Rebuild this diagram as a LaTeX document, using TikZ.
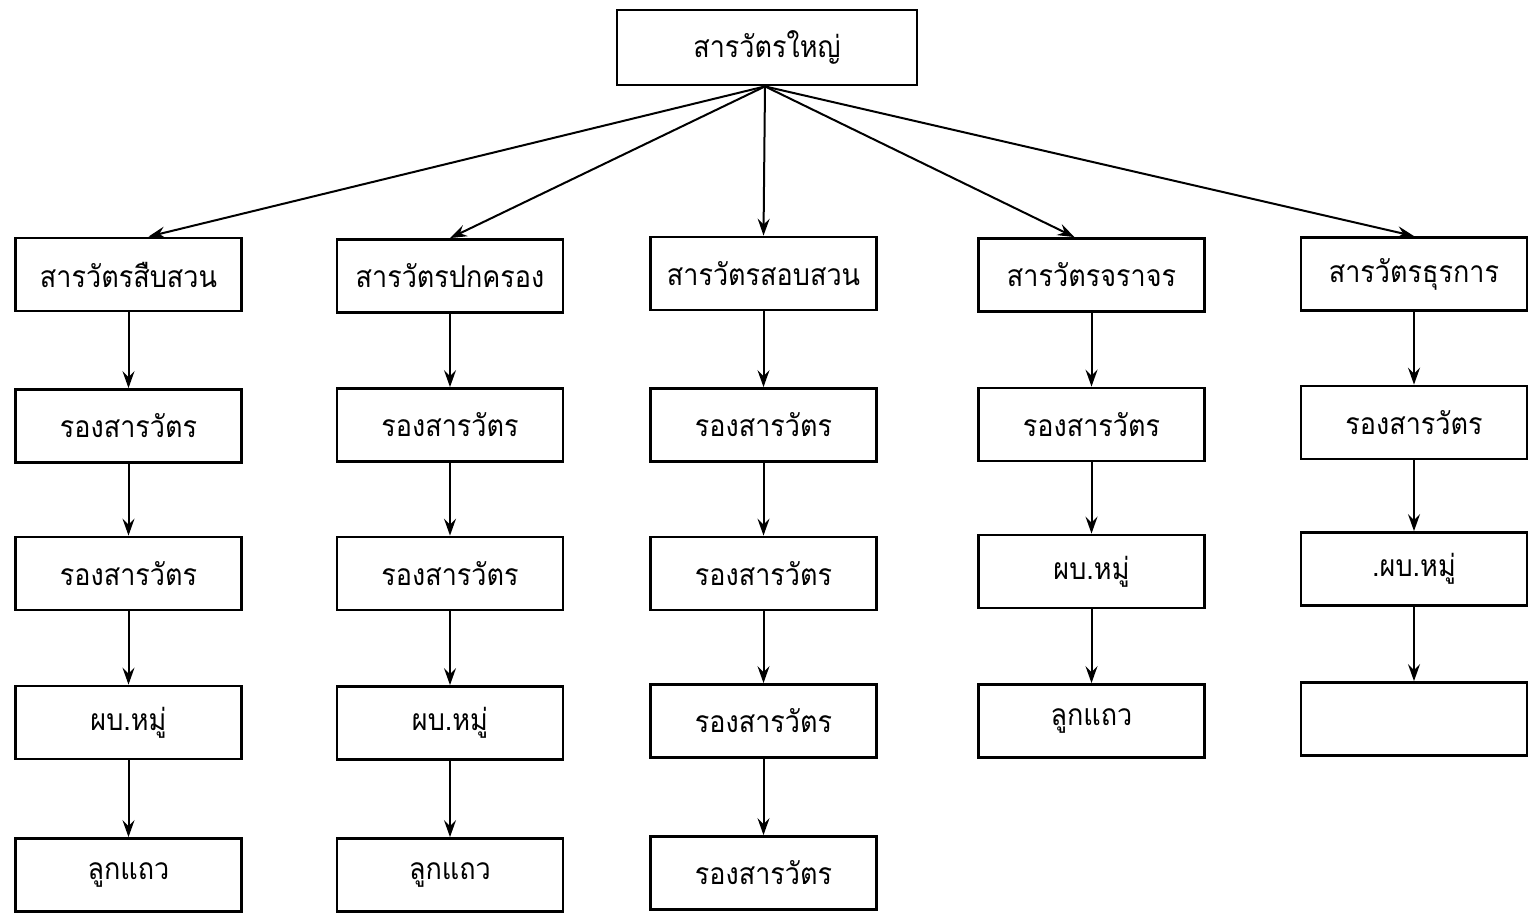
\documentclass[tikz,border=0pt]{standalone}
\usepackage{fontspec}
\newfontfamily\thaifont[Script=Thai,FakeStretch=0.9]{Loma}
\usetikzlibrary{arrows.meta}
\begin{document}
\begin{tikzpicture}[x=1pt,y=-1pt,
  box/.style={draw, line width=2.8pt, minimum width=226pt, minimum height=73pt, inner sep=0pt,
    font=\thaifont\fontsize{30}{36}\selectfont},
  arr/.style={line width=2pt, -{Stealth[length=17pt,width=12pt,inset=6pt]}}]
\useasboundingbox (0,0) rectangle (1528,916);
\node[box, minimum width=300pt, minimum height=75pt] (top) at (767,47.5) {สารวัตรใหญ่};
% column 1
\node[box] (a1) at (128.5,274.5) {สารวัตรสืบสวน};
\node[box] (a2) at (128.5,426) {รองสารวัตร};
\node[box] (a3) at (128.5,573.5) {รองสารวัตร};
\node[box] (a4) at (128.5,722.5) {ผบ.หมู่};
\node[box] (a5) at (128.5,875) {ลูกแถว};
% column 2
\node[box] (b1) at (450,276) {สารวัตรปกครอง};
\node[box] (b2) at (450,425) {รองสารวัตร};
\node[box] (b3) at (450,573.5) {รองสารวัตร};
\node[box] (b4) at (450,723) {ผบ.หมู่};
\node[box] (b5) at (450,875) {ลูกแถว};
% column 3
\node[box] (c1) at (763.5,273.5) {สารวัตรสอบสวน};
\node[box] (c2) at (763.5,425) {รองสารวัตร};
\node[box] (c3) at (763.5,573.5) {รองสารวัตร};
\node[box] (c4) at (763.5,721) {รองสารวัตร};
\node[box] (c5) at (763.5,873) {รองสารวัตร};
% column 4
\node[box] (d1) at (1091.5,275) {สารวัตรจราจร};
\node[box] (d2) at (1091.5,424.5) {รองสารวัตร};
\node[box] (d3) at (1091.5,571.5) {ผบ.หมู่};
\node[box] (d4) at (1091.5,721) {ลูกแถว};
% column 5
\node[box] (e1) at (1414,274) {สารวัตรธุรการ};
\node[box] (e2) at (1414,422.5) {รองสารวัตร};
\node[box] (e3) at (1414,569) {.ผบ.หมู่};
\node[box] (e4) at (1414,719) {};
% top arrows
\coordinate (src) at ([xshift=-2pt]top.south);
\draw[arr] (src) -- ([xshift=20pt]a1.north);
\draw[arr] (src) -- (b1.north);
\draw[arr] (src) -- (c1.north);
\draw[arr] (src) -- ([xshift=-17pt]d1.north);
\draw[arr] (src) -- (e1.north);
% vertical arrows
\foreach \p/\q in {a1/a2,a2/a3,a3/a4,a4/a5,b1/b2,b2/b3,b3/b4,b4/b5,c1/c2,c2/c3,c3/c4,c4/c5,d1/d2,d2/d3,d3/d4,e1/e2,e2/e3,e3/e4}
  \draw[arr] (\p.south) -- (\q.north);
\end{tikzpicture}
\end{document}
